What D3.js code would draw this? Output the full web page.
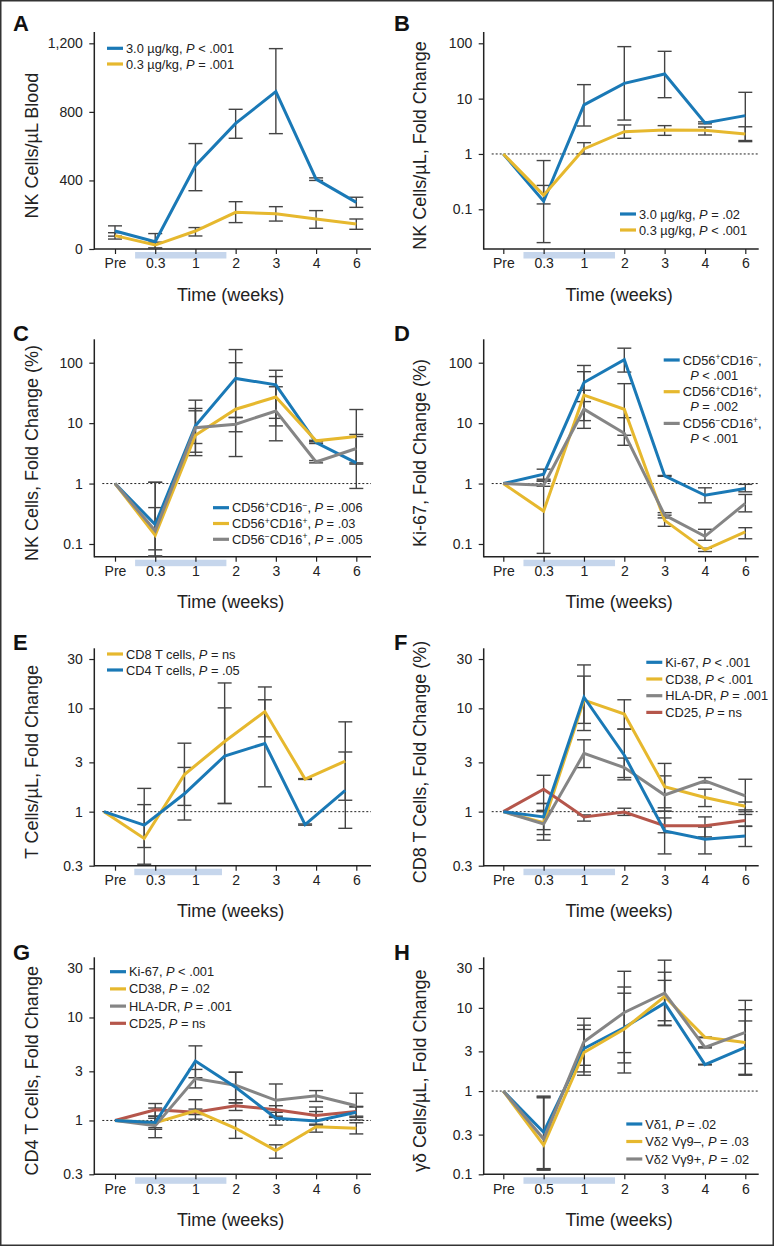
<!DOCTYPE html>
<html><head><meta charset="utf-8">
<script src="https://cdn.jsdelivr.net/npm/d3@7"></script>
<style>
body{margin:0;background:#fff;}
svg{display:block;font-family:"Liberation Sans",Arial,Helvetica,sans-serif;}
</style></head><body>
<svg id="chart" width="775" height="1247"></svg>
<script>
// ---------- categories ----------
const weeks = ["Pre", "0.3", "1", "2", "3", "4", "6"];
const weeksH = ["Pre", "0.5", "1", "2", "3", "4", "6"];

// ---------- tick labels ----------
const ticksA = [0, 400, 800, 1200];
const ticksBCD = [0.1, 1, 10, 100];
const ticksEFG = [0.3, 1, 3, 10, 30];
const ticksH = [0.1, 0.3, 1, 3, 10, 30];

// ---------- Panel A ----------
const aNames = ["3.0 µg/kg", "0.3 µg/kg"];
const aP = ["< .001", "= .001"];
const aHigh = [105, 43, 486, 733, 918, 408, 272];
const aHighLo = [75, 5, 340, 646, 673, 400, 243];
const aHighHi = [135, 90, 615, 815, 1169, 415, 302];
const aLow = [78, 23, 105, 214, 206, 175, 146];
const aLowLo = [58, 5, 76, 154, 163, 121, 115];
const aLowHi = [95, 40, 125, 276, 247, 224, 175];

// ---------- Panel B ----------
const bNames = ["3.0 µg/kg", "0.3 µg/kg"];
const bP = ["= .02", "< .001"];
const bHigh = [1, 0.14, 7.7, 18.9, 27.9, 3.63, 4.93];
const bHighLo = [null, 0.025, 3.2, 4.1, 10.4, 3.5, 1.67];
const bHighHi = [null, 0.76, 17.9, 87, 71.6, 3.8, 13];
const bLow = [1, 0.18, 1.23, 2.53, 2.72, 2.68, 2.3];
const bLowLo = [null, 0.125, 1.0, 1.92, 2.17, 2.2, 1.75];
const bLowHi = [null, 0.27, 1.6, 3.34, 3.25, 3.07, 3.1];

// ---------- Panel C ----------
const cNames = ["CD56^+CD16^−", "CD56^+CD16^+", "CD56^−CD16^+"];
const cP = ["= .006", "= .03", "= .005"];
const cBlue = [1, 0.21, 9.0, 55, 43, 4.77, 2.2];
const cBlueLo = [null, 0.08, 4.6, 12.4, 12, 4.6, 0.83];
const cBlueHi = [null, 0.4, 24, 165, 75, 5.0, 6.0];
const cYellow = [1, 0.14, 6.3, 17, 27, 5.1, 6.0];
const cYellowLo = [null, 0.063, 2.9, 2.8, 5.1, 4.9, 2.2];
const cYellowHi = [null, 1.05, 16, 100, 59, 5.2, 6.5];
const cGray = [1, 0.165, 8.4, 9.6, 15.9, 2.28, 3.8];
const cGrayLo = [null, 0.063, 3.3, 7.2, 9, 2.2, 2.1];
const cGrayHi = [null, 1.05, 17.5, 12.4, 40, 2.4, 16.8];

// ---------- Panel D ----------
const dNames = ["CD56^+CD16^−", "CD56^+CD16^+", "CD56^−CD16^+"];
const dP = ["< .001", "= .002", "< .001"];
const dBlue = [1, 1.43, 47, 112, 1.34, 0.64, 0.83];
const dBlueLo = [null, 1.18, 22.7, 70, 1.32, 0.48, 0.73];
const dBlueHi = [null, 1.73, 90, 174, 1.36, 0.85, 0.97];
const dYellow = [1, 0.35, 29, 17, 0.246, 0.08, 0.158];
const dYellowLo = [null, 0.07, 11, 6.3, 0.196, 0.075, 0.122];
const dYellowHi = [null, 1.1, 71, 45, 0.3, 0.085, 0.186];
const dGray = [1, 0.94, 17, 6.8, 0.3, 0.134, 0.47];
const dGrayLo = [null, 0.9, 8.2, 4.3, 0.27, 0.115, 0.34];
const dGrayHi = [null, 1.1, 35, 12.3, 0.33, 0.175, 0.66];

// ---------- Panel E ----------
const eNames = ["CD8 T cells", "CD4 T cells"];
const eP = ["= ns", "= .05"];
const eCD8 = [1, 0.55, 2.29, 4.77, 9.3, 2.07, 3.09];
const eCD8Lo = [null, 0.31, 0.83, 1.2, 5.3, 2.05, 1.29];
const eCD8Hi = [null, 1.17, 4.6, 17.6, 16.1, 2.09, 7.4];
const eCD4 = [1, 0.74, 1.49, 3.46, 4.56, 0.75, 1.61];
const eCD4Lo = [null, 0.45, 1.15, 1.2, 1.74, 0.74, 0.69];
const eCD4Hi = [null, 1.68, 2.68, 10.1, 12.1, 0.76, 3.78];

// ---------- Panel F ----------
const fNames = ["Ki-67", "CD38", "HLA-DR", "CD25"];
const fP = ["< .001", "< .001", "= .001", "= ns"];
const fKi = [1, 0.89, 12.8, 3.52, 0.65, 0.54, 0.58];
const fKiLo = [null, 0.67, 6.1, 2.03, 0.39, 0.39, 0.46];
const fKiHi = [null, 1.2, 26.3, 6.3, 1.01, 0.71, 0.725];
const fCD38 = [1, 0.78, 12.0, 8.8, 1.74, 1.37, 1.13];
const fCD38Lo = [null, 0.6, 7.15, 6.3, 1.09, 1.12, 0.94];
const fCD38Hi = [null, 1.0, 20.5, 12.1, 2.93, 1.65, 1.24];
const fHLA = [1, 0.76, 3.66, 2.67, 1.45, 1.99, 1.42];
const fHLALo = [null, 0.53, 2.67, 2.14, 1.01, 1.9, 1.0];
const fHLAHi = [null, 1.03, 4.96, 3.3, 2.22, 2.14, 2.06];
const fCD25 = [1, 1.65, 0.89, 0.99, 0.73, 0.73, 0.82];
const fCD25Lo = [null, 1.2, 0.81, 0.92, 0.625, 0.57, 0.72];
const fCD25Hi = [null, 2.25, 0.93, 1.08, 0.87, 0.89, 1.04];

// ---------- Panel G ----------
const gNames = ["Ki-67", "CD38", "HLA-DR", "CD25"];
const gP = ["< .001", "= .02", "= .001", "= ns"];
const gKi = [1, 0.955, 3.77, 2.1, 1.05, 0.99, 1.2];
const gKiLo = [null, 0.82, 2.6, 1.48, 0.9, 0.9, 1.01];
const gKiHi = [null, 1.32, 5.3, 2.94, 1.2, 1.35, 1.37];
const gCD38 = [1, 0.95, 1.24, 0.84, 0.51, 0.87, 0.84];
const gCD38Lo = [null, 0.85, 1.03, 0.67, 0.43, 0.77, 0.74];
const gCD38Hi = [null, 1.05, 1.59, 1.01, 0.58, 0.92, 0.95];
const gHLA = [1, 0.89, 2.55, 2.2, 1.57, 1.74, 1.39];
const gHLALo = [null, 0.68, 2.07, 1.48, 1.07, 1.53, 1.07];
const gHLAHi = [null, 1.1, 3.13, 2.94, 2.26, 1.95, 1.84];
const gCD25 = [1, 1.27, 1.2, 1.39, 1.27, 1.12, 1.22];
const gCD25Lo = [null, 1.1, 1.14, 1.25, 1.1, 1.0, 1.1];
const gCD25Hi = [null, 1.46, 1.29, 1.59, 1.39, 1.22, 1.35];

// ---------- Panel H ----------
const hNames = ["Vδ1", "Vδ2 Vγ9–", "Vδ2 Vγ9+"];
const hP = ["= .02", "= .03", "= .02"];
const hVd1 = [1, 0.32, 3.25, 5.8, 11.4, 2.08, 3.35];
const hVd1Lo = [null, 0.115, 1.7, 2.18, 6.1, 2.06, 1.55];
const hVd1Hi = [null, 0.85, 5.5, 17.8, 21.4, 2.1, 6.96];
const hVd2m = [1, 0.224, 2.91, 5.57, 13.7, 4.42, 3.84];
const hVd2mLo = [null, 0.112, 1.55, 1.65, 6.2, 4.38, 2.14];
const hVd2mHi = [null, 0.83, 6.2, 15, 26.8, 4.46, 9.5];
const hVd2p = [1, 0.265, 3.92, 8.8, 15.0, 3.35, 5.08];
const hVd2pLo = [null, 0.117, 2.04, 2.9, 7.0, 3.3, 1.59];
const hVd2pHi = [null, 0.87, 7.5, 27.5, 37.4, 3.4, 12.3];

// ---------- styling / layout ----------
const BLUE = "#1a79b6", YELLOW = "#e6b82e", GRAY = "#858585", RED = "#b5564b";
const cols = [
  {axisX: 94.3, x0: 115, x1: 356.3, right: 371, titleX: 31.7, labelX: 13},
  {axisX: 483.7, x0: 503.3, x1: 745.3, right: 758.7, titleX: 420.3, labelX: 394}
];
const rows = [
  {top: 32, bottom: 249, label: 31},
  {top: 339.3, bottom: 556.7, label: 340.5},
  {top: 648.3, bottom: 865.7, label: 650},
  {top: 957.3, bottom: 1174.3, label: 959.5}
];

const ser = (name, p, color, vals, lo, hi) => ({name, p, color, vals, lo, hi});

const panels = [
  {id: "A", col: 0, row: 0, cats: weeks, log: false, yDomain: [0, 1266], yTicks: ticksA,
   title: "NK Cells/µL Blood", band: [0.5, 2.77], shift: 0,
   legend: {x: 107, y: 48.3, dy: 15.7},
   series: [ser(aNames[0], aP[0], BLUE, aHigh, aHighLo, aHighHi),
            ser(aNames[1], aP[1], YELLOW, aLow, aLowLo, aLowHi)]},
  {id: "B", col: 1, row: 0, cats: weeks, log: true, yDomain: [0.01916, 160], yTicks: ticksBCD,
   title: "NK Cells/µL, Fold Change", band: [0.5, 2.77], shift: 0,
   legend: {x: 620, y: 214, dy: 16},
   series: [ser(bNames[0], bP[0], BLUE, bHigh, bHighLo, bHighHi),
            ser(bNames[1], bP[1], YELLOW, bLow, bLowLo, bLowHi)]},
  {id: "C", col: 0, row: 1, cats: weeks, log: true, yDomain: [0.0616, 244], yTicks: ticksBCD,
   title: "NK Cells, Fold Change (%)", band: [0.5, 2.77], shift: 0,
   legend: {x: 213, y: 507.7, dy: 15.8},
   series: [ser(cNames[0], cP[0], BLUE, cBlue, cBlueLo, cBlueHi),
            ser(cNames[1], cP[1], YELLOW, cYellow, cYellowLo, cYellowHi),
            ser(cNames[2], cP[2], GRAY, cGray, cGrayLo, cGrayHi)]},
  {id: "D", col: 1, row: 1, cats: weeks, log: true, yDomain: [0.0616, 244], yTicks: ticksBCD,
   title: "Ki-67, Fold Change (%)", band: [0.5, 2.77], shift: 0,
   legend: {x: 663.7, y: 360, dy: 31.7, twoLine: true},
   series: [ser(dNames[0], dP[0], BLUE, dBlue, dBlueLo, dBlueHi),
            ser(dNames[1], dP[1], YELLOW, dYellow, dYellowLo, dYellowHi),
            ser(dNames[2], dP[2], GRAY, dGray, dGrayLo, dGrayHi)]},
  {id: "E", col: 0, row: 2, cats: weeks, log: true, yDomain: [0.3, 38.1], yTicks: ticksEFG,
   title: "T Cells/µL, Fold Change", band: [0.48, 2.66], shift: -11,
   legend: {x: 107, y: 654, dy: 16},
   series: [ser(eNames[0], eP[0], YELLOW, eCD8, eCD8Lo, eCD8Hi),
            ser(eNames[1], eP[1], BLUE, eCD4, eCD4Lo, eCD4Hi)]},
  {id: "F", col: 1, row: 2, cats: weeks, log: true, yDomain: [0.3, 38.1], yTicks: ticksEFG,
   title: "CD8 T Cells, Fold Change (%)", band: [0.5, 2.77], shift: 0,
   legend: {x: 646.3, y: 662.3, dy: 16.7},
   series: [ser(fNames[1], fP[1], YELLOW, fCD38, fCD38Lo, fCD38Hi),
            ser(fNames[2], fP[2], GRAY, fHLA, fHLALo, fHLAHi),
            ser(fNames[3], fP[3], RED, fCD25, fCD25Lo, fCD25Hi),
            ser(fNames[0], fP[0], BLUE, fKi, fKiLo, fKiHi)],
   legendOrder: [3, 0, 1, 2]},
  {id: "G", col: 0, row: 3, cats: weeks, log: true, yDomain: [0.3, 38.4], yTicks: ticksEFG,
   title: "CD4 T Cells, Fold Change", band: [0.5, 2.77], shift: 0,
   legend: {x: 110, y: 971.7, dy: 17.2},
   series: [ser(gNames[3], gP[3], RED, gCD25, gCD25Lo, gCD25Hi),
            ser(gNames[1], gP[1], YELLOW, gCD38, gCD38Lo, gCD38Hi),
            ser(gNames[2], gP[2], GRAY, gHLA, gHLALo, gHLAHi),
            ser(gNames[0], gP[0], BLUE, gKi, gKiLo, gKiHi)],
   legendOrder: [3, 1, 2, 0]},
  {id: "H", col: 1, row: 3, cats: weeksH, log: true, yDomain: [0.1, 40.5], yTicks: ticksH,
   title: "γδ Cells/µL, Fold Change", band: [0.5, 2.77], shift: 0,
   legend: {x: 626.3, y: 1124, dy: 17.5},
   series: [ser(hNames[0], hP[0], BLUE, hVd1, hVd1Lo, hVd1Hi),
            ser(hNames[1], hP[1], YELLOW, hVd2m, hVd2mLo, hVd2mHi),
            ser(hNames[2], hP[2], GRAY, hVd2p, hVd2pLo, hVd2pHi)]}
];

const svg = d3.select("#chart");
svg.append("rect").attr("x", 0.75).attr("y", 0.75).attr("width", 772.5).attr("height", 1244.5)
  .attr("fill", "none").attr("stroke", "#333").attr("stroke-width", 1.5);

function writeName(t, name) {
  const parts = name.split(/(\^[+−])/);
  let raised = false;
  parts.forEach(s => {
    if (!s) return;
    if (s[0] === "^") {
      t.append("tspan").attr("font-size", 8.5).attr("dy", raised ? 0 : -4.5).text(s[1]);
      raised = true;
    } else {
      t.append("tspan").attr("dy", raised ? 4.5 : 0).text(s);
      raised = false;
    }
  });
  return raised;
}

function drawPanel(p) {
  const col = cols[p.col], row = rows[p.row];
  const g = svg.append("g");
  const x = d3.scalePoint().domain(p.cats).range([col.x0, col.x1]);
  const step = x.step();
  const y = (p.log ? d3.scaleLog() : d3.scaleLinear()).domain(p.yDomain).range([row.bottom, row.top]);

  // treatment band
  g.append("rect")
    .attr("x", col.x0 + p.band[0] * step).attr("y", row.bottom + 3)
    .attr("width", (p.band[1] - p.band[0]) * step).attr("height", 6.5)
    .attr("fill", "#c6d6ec");

  // reference line at 1
  if (p.log) {
    g.append("line").attr("x1", col.axisX + 8).attr("x2", col.right)
      .attr("y1", y(1)).attr("y2", y(1))
      .attr("stroke", "#222").attr("stroke-width", 1).attr("stroke-dasharray", "2,2");
  }

  // axes
  const yAxis = d3.axisLeft(y).tickValues(p.yTicks).tickSize(5).tickSizeOuter(0).tickPadding(6.5)
    .tickFormat(p.log ? (d => String(d)) : d3.format(","));
  const ya = g.append("g").attr("transform", `translate(${col.axisX},0)`).call(yAxis);
  ya.select(".domain").remove();
  const xAxis = d3.axisBottom(x).tickSize(5).tickSizeOuter(0).tickPadding(4.5);
  const xa = g.append("g").attr("transform", `translate(0,${row.bottom})`).call(xAxis);
  xa.select(".domain").remove();
  [ya, xa].forEach(a => {
    a.selectAll("text").attr("font-size", 14).attr("fill", "#222")
      .attr("font-family", '"Liberation Sans", Arial, sans-serif');
    a.selectAll("line").attr("stroke", "#222").attr("stroke-width", 1.2);
  });
  g.append("line").attr("x1", col.axisX).attr("x2", col.axisX)
    .attr("y1", row.top).attr("y2", row.bottom + 0.7).attr("stroke", "#222").attr("stroke-width", 1.5);
  g.append("line").attr("x1", col.axisX).attr("x2", col.right)
    .attr("y1", row.bottom).attr("y2", row.bottom).attr("stroke", "#222").attr("stroke-width", 1.5);

  const px = i => x(p.cats[i]) + p.shift;

  // error bars
  p.series.forEach(s => {
    const eg = g.append("g").attr("stroke", "#444").attr("stroke-width", 1.4).attr("fill", "none");
    s.vals.forEach((v, i) => {
      if (s.lo[i] == null) return;
      const xx = px(i), y1 = y(s.lo[i]), y2 = y(s.hi[i]);
      eg.append("line").attr("x1", xx).attr("x2", xx).attr("y1", y1).attr("y2", y2);
      eg.append("line").attr("x1", xx - 7).attr("x2", xx + 7).attr("y1", y1).attr("y2", y1);
      eg.append("line").attr("x1", xx - 7).attr("x2", xx + 7).attr("y1", y2).attr("y2", y2);
    });
  });

  // lines
  const line = d3.line().x((d, i) => px(i)).y(d => y(d));
  p.series.forEach(s => {
    g.append("path").datum(s.vals).attr("d", line)
      .attr("fill", "none").attr("stroke", s.color).attr("stroke-width", 3)
      .attr("stroke-linejoin", "miter");
  });

  // legend
  const order = p.legendOrder || p.series.map((_, i) => i);
  const L = p.legend;
  order.forEach((si, k) => {
    const s = p.series[si];
    const yy = L.y + k * L.dy;
    g.append("line").attr("x1", L.x).attr("x2", L.x + 16).attr("y1", yy).attr("y2", yy)
      .attr("stroke", s.color).attr("stroke-width", 3.2);
    const t = g.append("text").attr("x", L.x + 19).attr("y", yy + 4.5)
      .attr("font-size", 12.8).attr("fill", "#222");
    const raised = writeName(t, s.name);
    if (L.twoLine) {
      t.append("tspan").attr("dy", raised ? 4.5 : 0).text(",");
      const t2 = g.append("text").attr("x", L.x + 26.5).attr("y", yy + 15 + 4.5)
        .attr("font-size", 12.8).attr("fill", "#222");
      t2.append("tspan").attr("font-style", "italic").text("P");
      t2.append("tspan").text(" " + s.p);
    } else {
      t.append("tspan").attr("dy", raised ? 4.5 : 0).text(", ");
      t.append("tspan").attr("font-style", "italic").text("P");
      t.append("tspan").text(" " + s.p);
    }
  });

  // titles
  const midY = (row.top + row.bottom) / 2 + 5;
  g.append("text").attr("transform", `translate(${col.titleX},${midY}) rotate(-90)`)
    .attr("text-anchor", "middle").attr("dominant-baseline", "central")
    .attr("font-size", 18).attr("fill", "#222").text(p.title);
  g.append("text").attr("x", (col.axisX + col.right) / 2 - 2).attr("y", row.bottom + 51.5)
    .attr("text-anchor", "middle").attr("font-size", 18).attr("fill", "#222").text("Time (weeks)");
  g.append("text").attr("x", col.labelX).attr("y", row.label)
    .attr("font-size", 22).attr("font-weight", "bold").attr("fill", "#111").text(p.id);
}

panels.forEach(drawPanel);
</script>
</body></html>
